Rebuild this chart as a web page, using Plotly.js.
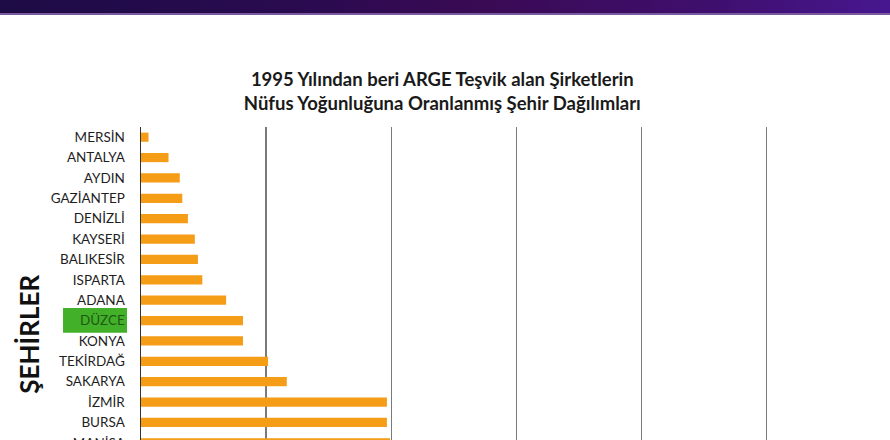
<!DOCTYPE html>
<html>
<head>
<meta charset="utf-8">
<script src="https://cdn.plot.ly/plotly-3.0.1.min.js"></script>
<style>
  html, body { margin: 0; padding: 0; background: #fff; overflow: hidden; }
  #wrap { position: relative; width: 890px; height: 440px; overflow: hidden; }
  #band { position: absolute; left: 0; top: 0; width: 890px; height: 13px;
          background: linear-gradient(90deg, #1d0c46 0%, #2a0a50 35%, #3a0a55 55%, #3f0f6e 80%, #47178f 100%);
          border-bottom: 2px solid #7a5a9e; z-index: 5; }
  #chart { position: absolute; left: 0; top: 0; width: 890px; height: 500px; }
</style>
</head>
<body>
<div id="wrap">
  <div id="band"></div>
  <div id="chart"></div>
</div>
<script>
// ---- data ----
const cities = ["MERSİN", "ANTALYA", "AYDIN", "GAZİANTEP", "DENİZLİ", "KAYSERİ", "BALIKESİR",
                "ISPARTA", "ADANA", "DÜZCE", "KONYA", "TEKİRDAĞ", "SAKARYA", "İZMİR", "BURSA", "MANİSA"];
const values = [0.06, 0.22, 0.31, 0.33, 0.375, 0.43, 0.455, 0.49, 0.68, 0.815, 0.815, 1.015, 1.165, 1.965, 1.965, 1.99];
const highlightCity = "DÜZCE";
const chartTitle = "1995 Yılından beri ARGE Teşvik alan Şirketlerin<br>Nüfus Yoğunluğuna Oranlanmış Şehir Dağılımları";
const yTitle = "ŞEHİRLER";

// ---- layout constants ----
const H = 500, W = 890;
const L = 141, T = 127, catPx = 20.4;
const plotH = catPx * cities.length;
const pxPerUnit = 125.2;
const xMax = 5.05;
const plotW = xMax * pxPerUnit;

const tickText = cities.map(c => c === highlightCity
  ? '<span style="color:#1e5a12">' + c + '</span>' : c);

const trace = {
  type: 'bar',
  orientation: 'h',
  x: values,
  y: cities,
  width: 0.45,
  marker: { color: '#f59d17', line: { width: 0 } },
  hoverinfo: 'x+y'
};

const hiIdx = cities.indexOf(highlightCity);

const layout = {
  width: W, height: H,
  margin: { l: L, t: T, r: W - L - plotW, b: H - T - plotH, pad: 0 },
  paper_bgcolor: '#ffffff',
  plot_bgcolor: '#ffffff',
  showlegend: false,
  bargap: 0.55,
  title: {
    text: chartTitle,
    font: { family: 'Lato, "Open Sans", sans-serif', size: 18.5, color: '#1a1a1a', weight: 'bold' },
    x: 0.497, xanchor: 'center',
    y: 1 - 86 / H, yanchor: 'middle', yref: 'container'
  },
  xaxis: {
    range: [0, xMax],
    dtick: 1, tick0: 0,
    showgrid: true, gridcolor: '#7a7a7a', gridwidth: 1.5,
    zeroline: false, showline: false,
    showticklabels: false, ticks: '',
    fixedrange: true
  },
  yaxis: {
    type: 'category',
    categoryorder: 'array', categoryarray: cities,
    autorange: 'reversed',
    tickvals: cities, ticktext: tickText,
    tickfont: { family: 'Lato, "Open Sans", sans-serif', size: 13.5, color: '#1e1e1e' },
    ticks: '', ticklabelstandoff: 12,
    showline: true, linecolor: '#333333', linewidth: 1.5,
    showgrid: false, zeroline: false,
    fixedrange: true
  },
  shapes: [{
    type: 'rect', layer: 'below',
    xref: 'paper', yref: 'y',
    x0: (63 - L) / plotW, x1: (127 - L) / plotW,
    y0: hiIdx - 0.62, y1: hiIdx + 0.6,
    fillcolor: '#43b02a', line: { width: 0 }
  }],
  annotations: [{
    text: '<b>' + yTitle + '</b>',
    xref: 'paper', yref: 'paper',
    x: 0, xshift: 29 - L, xanchor: 'center',
    y: 1 - (335 - T) / plotH, yanchor: 'middle',
    textangle: -90, showarrow: false,
    font: { family: 'Lato, "Open Sans", sans-serif', size: 26, color: '#111111' }
  }]
};

Plotly.newPlot('chart', [trace], layout, { displayModeBar: false, staticPlot: true });
</script>
</body>
</html>
